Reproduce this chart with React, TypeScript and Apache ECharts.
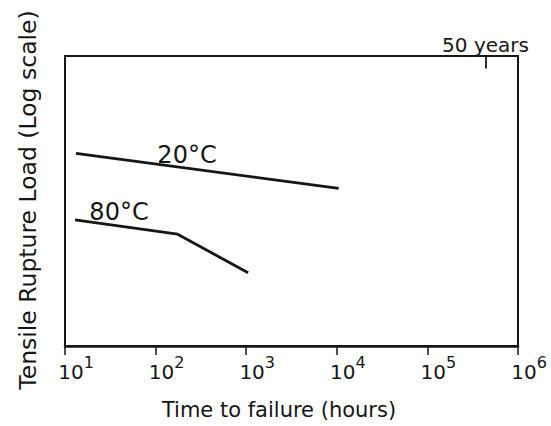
import React, { useEffect, useRef } from "react";
import * as echarts from "echarts";

// Time to failure (hours), log scale
const xTickValues = [10, 100, 1000, 10000, 100000, 1000000];
const xTickExponents = ["1", "2", "3", "4", "5", "6"];

// 20°C curve
const time20 = [13.2, 10500];
const load20 = [21.3, 12.2];

// 80°C curve
const time80 = [12.9, 175, 1050];
const load80 = [7.4, 5.9, 3.2];

// 50-year marker (hours)
const fiftyYearsHours = 438000;
const fiftyYearsLabel = "50 years";

const seriesNames = ["20°C", "80°C"];
const xTitle = "Time to failure (hours)";
const yTitle = "Tensile Rupture Load (Log scale)";

const INK = "#161616";
const FONT = "DejaVu Sans";

export default function App() {
  const ref = useRef<HTMLDivElement>(null);
  useEffect(() => {
    if (!ref.current) return;
    const chart = echarts.init(ref.current, null, { renderer: "svg" });
    const expOf = (v: number) => {
      const i = xTickValues.findIndex((t) => Math.abs(Math.log10(t) - Math.log10(v)) < 1e-6);
      return i >= 0 ? xTickExponents[i] : "";
    };
    chart.setOption({
      animation: false,
      backgroundColor: "#ffffff",
      grid: {
        left: 65,
        right: 33,
        top: 56,
        bottom: 80,
        show: true,
        borderColor: INK,
        borderWidth: 2,
        containLabel: false,
      },
      xAxis: {
        type: "log",
        logBase: 10,
        min: 10,
        max: 1000000,
        axisLine: { show: true, lineStyle: { color: INK, width: 2.5 } },
        axisTick: { show: true, inside: false, length: 9, lineStyle: { color: INK, width: 1.5 } },
        minorTick: { show: false },
        splitLine: { show: false },
        axisLabel: {
          show: true,
          margin: 8,
          color: INK,
          fontFamily: FONT,
          formatter: (v: number) => `{sp| }{b|10}{s|${expOf(v)}}`,
          rich: {
            sp: { width: 22, fontSize: 20, lineHeight: 36 },
            b: { fontSize: 20, lineHeight: 36, fontFamily: FONT, color: INK },
            s: { fontSize: 16, lineHeight: 14, verticalAlign: "top", fontFamily: FONT, color: INK },
          },
        },
      },
      yAxis: {
        type: "log",
        logBase: 10,
        min: 1,
        max: 100,
        axisLine: { show: true, lineStyle: { color: INK, width: 2 } },
        axisTick: { show: false },
        minorTick: { show: false },
        splitLine: { show: false },
        axisLabel: { show: false },
      },
      series: [
        {
          name: seriesNames[0],
          type: "line",
          data: time20.map((t, i) => [t, load20[i]]),
          symbol: "none",
          lineStyle: { color: INK, width: 2.8 },
          markLine: {
            silent: true,
            symbol: ["none", "none"],
            lineStyle: { color: INK, width: 1.8, type: "solid" },
            label: {
              show: true,
              position: "start",
              distance: 1,
              formatter: fiftyYearsLabel,
              fontSize: 20,
              fontFamily: FONT,
              color: INK,
            },
            data: [[{ coord: [fiftyYearsHours, 100] }, { coord: [fiftyYearsHours, 82] }]],
          },
        },
        {
          name: seriesNames[1],
          type: "line",
          data: time80.map((t, i) => [t, load80[i]]),
          symbol: "none",
          lineStyle: { color: INK, width: 2.8 },
        },
      ],
      graphic: [
        {
          type: "text",
          x: 187,
          y: 155,
          style: { text: seriesNames[0], font: `24px '${FONT}'`, fill: INK, textAlign: "center", textVerticalAlign: "middle" },
        },
        {
          type: "text",
          x: 119,
          y: 212,
          style: { text: seriesNames[1], font: `24px '${FONT}'`, fill: INK, textAlign: "center", textVerticalAlign: "middle" },
        },
        {
          type: "text",
          x: 279,
          y: 410,
          style: { text: xTitle, font: `21px '${FONT}'`, fill: INK, textAlign: "center", textVerticalAlign: "middle" },
        },
        {
          type: "text",
          x: 28,
          y: 200,
          rotation: Math.PI / 2,
          style: { text: yTitle, font: `23.5px '${FONT}'`, fill: INK, textAlign: "center", textVerticalAlign: "middle" },
        },
      ],
    });
    return () => chart.dispose();
  }, []);
  return (
    <div
      ref={ref}
      style={{ position: "fixed", left: 0, top: 0, width: 551, height: 426, background: "#fff" }}
    />
  );
}
